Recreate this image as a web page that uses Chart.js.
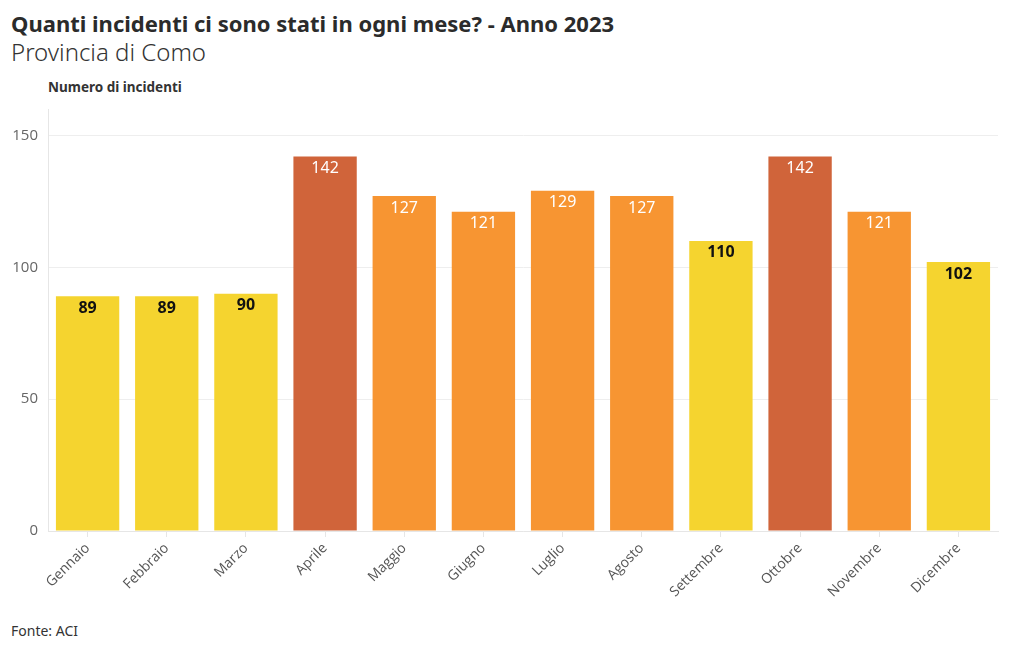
<!DOCTYPE html>
<html><head><meta charset="utf-8">
<script src="https://cdn.jsdelivr.net/npm/chart.js@4/dist/chart.umd.min.js"></script>
<style>
body{margin:0;background:#fff;width:1020px;height:650px;overflow:hidden;font-family:"Noto Sans",sans-serif;}
#t{position:absolute;left:11px;top:8px;font-size:22px;font-weight:700;color:#2b2b2b;letter-spacing:0}
#s{position:absolute;left:11px;top:35px;font-size:24px;font-weight:300;color:#333}
#yl{position:absolute;left:48px;top:78px;font-size:13.5px;font-weight:700;color:#333}
#f{position:absolute;left:11px;top:621px;font-size:14px;color:#333}
#c{position:absolute;left:0;top:90px;width:1020px;height:530px}
</style></head><body>
<div id="t">Quanti incidenti ci sono stati in ogni mese? - Anno 2023</div>
<div id="s">Provincia di Como</div>
<div id="yl">Numero di incidenti</div>
<div id="f">Fonte: ACI</div>
<div id="c"><canvas id="cv"></canvas></div>
<script>
const months = ["Gennaio","Febbraio","Marzo","Aprile","Maggio","Giugno","Luglio","Agosto","Settembre","Ottobre","Novembre","Dicembre"];
const incidents = [89,89,90,142,127,121,129,127,110,142,121,102];
const yTicks = [0,50,100,150];

function colorFor(v){ return v>=140 ? "#D0643A" : (v>=120 ? "#F79532" : "#F5D42F"); }
function labelColor(v){ return v>=120 ? "#ffffff" : "#111111"; }

const valueLabels = {
  id:"valueLabels",
  afterDatasetsDraw(chart){
    const ctx = chart.ctx;
    const meta = chart.getDatasetMeta(0);
    ctx.save();
    ctx.textAlign = "center";
    ctx.textBaseline = "middle";
    meta.data.forEach((bar,i)=>{
      const v = incidents[i];
      const light = v>=120;
      ctx.font = (light ? "400 16px" : "700 16px") + ' "Noto Sans", sans-serif';
      ctx.fillStyle = labelColor(v);
      ctx.fillText(String(v), bar.x, bar.y + 12);
    });
    ctx.restore();
  }
};

new Chart(document.getElementById("cv"),{
  type:"bar",
  data:{labels:months,datasets:[{data:incidents,backgroundColor:incidents.map(colorFor),categoryPercentage:0.8,barPercentage:1}]},
  options:{
    responsive:true,maintainAspectRatio:false,animation:false,
    layout:{padding:{top:8,right:22,bottom:0,left:0}},
    plugins:{legend:{display:false},tooltip:{enabled:false}},
    scales:{
      x:{
        grid:{display:true,drawOnChartArea:false,drawTicks:true,tickLength:6,offset:false,color:"#e6e6e6"},
        border:{color:"#e6e6e6"},
        ticks:{minRotation:45,maxRotation:45,color:"#555",font:{family:'"Open Sans", sans-serif',size:14},padding:3},
        afterFit(s){ s.height = 89; }
      },
      y:{
        min:0,max:160,
        afterBuildTicks(s){ s.ticks = yTicks.map(v=>({value:v})); },
        grid:{color:"#eeeeee",drawTicks:false},
        border:{color:"#e6e6e6"},
        ticks:{color:"#666",font:{family:'"Open Sans", sans-serif',size:15},padding:10},
        afterFit(s){ s.width = 48; }
      }
    }
  },
  plugins:[valueLabels]
});
</script>
</body></html>
